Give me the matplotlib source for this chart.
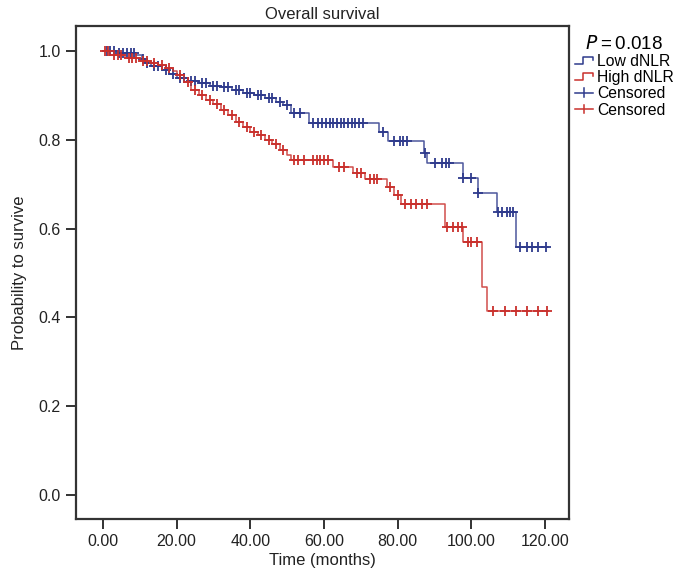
import numpy as np
import matplotlib
matplotlib.use("Agg")
import matplotlib.pyplot as plt
from matplotlib.lines import Line2D
from matplotlib.legend_handler import HandlerBase

plt.rcParams['font.family'] = ['Liberation Sans', 'DejaVu Sans']

# ---- data ----
low_times = [0, 4, 9, 10.5, 11.5, 13, 16, 18, 20, 23, 26, 29, 32, 35, 38, 41, 44, 47, 49, 51, 56,
             75, 77.5, 87.2, 88, 97.7, 101.8, 107, 112]
low_surv = [1.0, 0.995, 0.99, 0.982, 0.973, 0.965, 0.957, 0.948, 0.939, 0.933, 0.928, 0.922,
            0.918, 0.912, 0.905, 0.9, 0.893, 0.886, 0.878, 0.86, 0.838,
            0.818, 0.797, 0.77, 0.748, 0.714, 0.68, 0.637, 0.558]
low_end = 120.8
low_censor = [1, 2, 3, 4.5, 5.5, 6.5, 7.5, 8.5, 11, 12, 14, 15, 17, 19, 21, 22, 24, 25, 27, 28,
              30, 31, 33, 34, 36, 37, 39, 40, 42, 43, 45, 46, 48, 50, 52, 53.5, 57, 58.5, 59.5,
              60.5, 61.5, 62.5, 63.5, 64.5, 65.5, 66.5, 67.5, 68.5, 69.5, 70.5, 76, 79, 80.5,
              81.5, 82.5, 87.5, 90, 92, 93, 94, 97.7, 100, 101.9, 107.2, 108.3, 109.6, 110.5,
              111.4, 113.2, 115.1, 116.5, 118.1, 120.3]

high_times = [0, 2, 6, 10, 13, 15, 17, 19, 20, 22, 24, 26, 28, 30, 32, 34, 36, 38, 40, 42, 44,
              46, 48, 50, 51, 62.5, 68, 71, 77, 79, 81, 92.9, 97.8, 102.9, 104.2]
high_surv = [1.0, 0.99, 0.985, 0.978, 0.972, 0.968, 0.962, 0.955, 0.945, 0.93, 0.912, 0.9, 0.89,
             0.88, 0.867, 0.856, 0.84, 0.829, 0.818, 0.81, 0.8, 0.79, 0.776, 0.766, 0.755,
             0.739, 0.725, 0.712, 0.694, 0.676, 0.655, 0.604, 0.57, 0.468, 0.414]
high_end = 120.8
high_censor = [0.5, 1.5, 3, 4, 5, 7, 8, 9, 11, 12, 14, 16, 18, 21, 23, 25, 27, 29, 31, 33,
               35, 37, 39, 41, 43, 45, 47, 49, 52, 53, 54.5, 57, 58, 59, 60, 61, 64, 65.5,
               69, 70, 72.5, 73.5, 74.5, 78, 80, 82, 83.5, 85, 86.5, 88, 93.4, 95, 96.5,
               97.5, 99, 100, 101.5, 106, 109, 112, 115, 118, 120.5]

x_ticks = [0, 20, 40, 60, 80, 100, 120]
x_labels = ["0.00", "20.00", "40.00", "60.00", "80.00", "100.00", "120.00"]
y_ticks = [0.0, 0.2, 0.4, 0.6, 0.8, 1.0]
y_labels = ["0.0", "0.2", "0.4", "0.6", "0.8", "1.0"]
p_value = "0.018"

blue = '#2e3a8c'
red = '#c9302c'

fig = plt.figure(figsize=(6.83, 5.85), dpi=100)
ax = fig.add_axes([76 / 683, 1 - 519 / 585, (569 - 76) / 683, (519 - 26) / 585])


def surv_at(times, surv, t):
    idx = np.searchsorted(times, t, side='right') - 1
    return np.array(surv)[idx]


def draw(times, surv, end, cens, color):
    xs = list(times) + [end]
    ys = list(surv) + [surv[-1]]
    ax.step(xs, ys, where='post', color=color, lw=1.1, alpha=0.85)
    cy = surv_at(np.array(times), surv, np.array(cens))
    ax.plot(cens, cy, linestyle='none', marker='+', color=color, ms=7, mew=1.3)


draw(low_times, low_surv, low_end, low_censor, blue)
draw(high_times, high_surv, high_end, high_censor, red)

ax.set_xlim(-7.3, 126.5)
ax.set_ylim(-0.054, 1.056)
ax.set_xticks(x_ticks)
ax.set_xticklabels(x_labels)
ax.set_yticks(y_ticks)
ax.set_yticklabels(y_labels)
ax.tick_params(direction='out', length=7, width=1.3, labelsize=11.5, colors='#222222',
               pad=4)
for s in ax.spines.values():
    s.set_linewidth(1.6)
    s.set_color('#333333')
ax.set_xlabel("Time (months)", fontsize=12, color='#222222', labelpad=3)
ax.set_ylabel("Probability to survive", fontsize=12, color='#222222', labelpad=8)
ax.set_title("Overall survival", fontsize=12, color='#222222', pad=5)


class StepHandler(HandlerBase):
    def create_artists(self, legend, orig_handle, xdescent, ydescent, width, height,
                       fontsize, trans):
        w, h = width, height
        xs = [-xdescent, 0.45 * w - xdescent, 0.45 * w - xdescent, w - xdescent, w - xdescent]
        ys = [0.2 * h, 0.2 * h, 0.8 * h, 0.8 * h, 0.55 * h]
        ln = Line2D(xs, ys, color=orig_handle.get_color(), lw=1.1, transform=trans)
        return [ln]


class CensHandler(HandlerBase):
    def create_artists(self, legend, orig_handle, xdescent, ydescent, width, height,
                       fontsize, trans):
        c = orig_handle.get_color()
        l1 = Line2D([-xdescent, width - xdescent], [0.5 * height] * 2, color=c, lw=1.1,
                    transform=trans)
        l2 = Line2D([0.5 * width - xdescent] * 2, [0.1 * height, 0.9 * height], color=c,
                    lw=1.1, transform=trans)
        return [l1, l2]


h_low = Line2D([], [], color=blue)
h_high = Line2D([], [], color=red)
h_c1 = Line2D([], [], color=blue, marker='+')
h_c2 = Line2D([], [], color=red, marker='+')
step_h = StepHandler()
cens_h = CensHandler()
leg = ax.legend([h_low, h_high, h_c1, h_c2], ["Low dNLR", "High dNLR", "Censored", "Censored"],
                handler_map={h_low: step_h, h_high: step_h, h_c1: cens_h, h_c2: cens_h},
                loc='upper left', bbox_to_anchor=(0.997, 0.997), frameon=False,
                fontsize=11.3, handlelength=1.2, handletextpad=0.25, labelspacing=0.08,
                borderaxespad=0.05, borderpad=0.4, title=r"$\it{P}$" + "\u2009=\u2009" + p_value,
                title_fontsize=13.5)
leg._legend_box.align = "center"

fig.savefig("out.png", dpi=100)
